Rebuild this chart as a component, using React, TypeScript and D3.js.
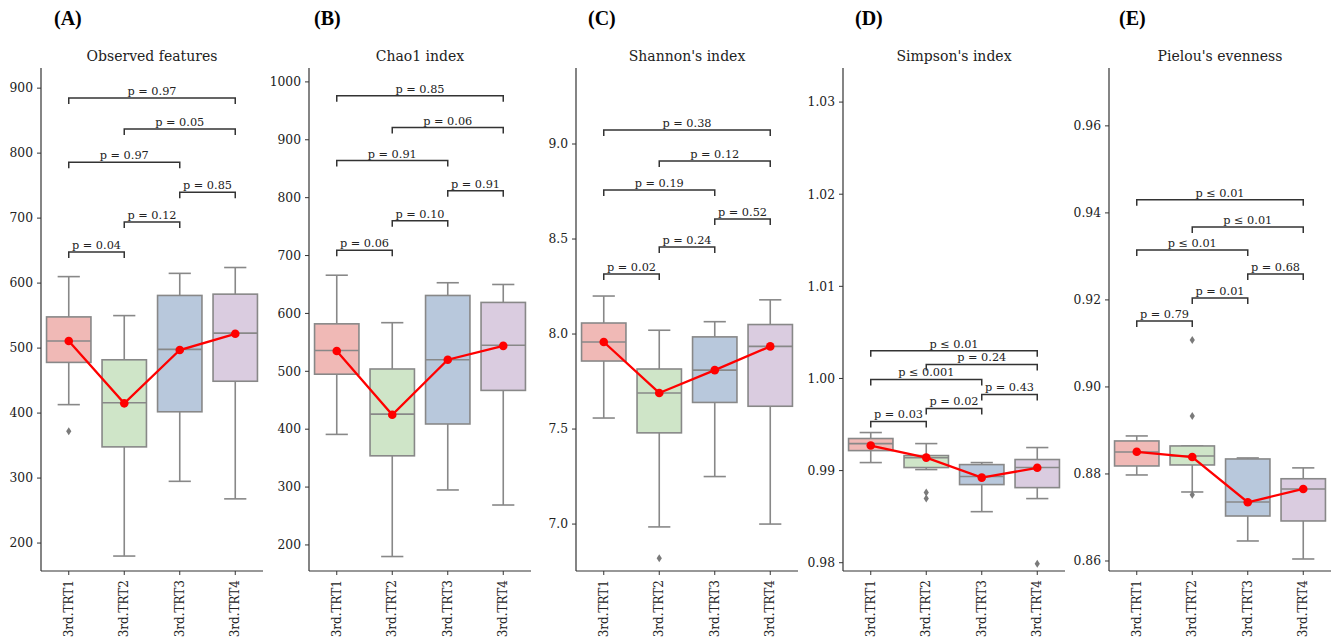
import React from "react";
import * as d3 from "d3";

// groups shared by all five panels
const categories = ["3rd.TRT1", "3rd.TRT2", "3rd.TRT3", "3rd.TRT4"];
const boxColors = ["#f0b9b6", "#cfe5c8", "#b8c8dc", "#dacce0"];
// comparison pairs, in the order the brackets stack upward
const pairs = [
  [0, 1],
  [1, 2],
  [2, 3],
  [0, 2],
  [1, 3],
  [0, 3],
];

// (A) Observed features: [low whisker, q1, median, q3, high whisker]
const observedBoxes = [
  [413, 478, 511, 548, 610],
  [180, 348, 416, 482, 550],
  [295, 402, 498, 581, 615],
  [268, 449, 523, 583, 624],
];
const observedMeans = [511, 415, 497, 522];
const observedOutliers = [[372], [], [], []];
const observedTicks = [200, 300, 400, 500, 600, 700, 800, 900];
const observedDomain = [157, 931];
const observedBracketY = [648, 694, 740, 786, 837, 885];
const observedPvals = ["p = 0.04", "p = 0.12", "p = 0.85", "p = 0.97", "p = 0.05", "p = 0.97"];

// (B) Chao1 index
const chao1Boxes = [
  [391, 495, 536, 582, 666],
  [180, 354, 426, 504, 584],
  [295, 409, 520, 631, 653],
  [269, 467, 545, 619, 650],
];
const chao1Means = [535, 425, 520, 544];
const chao1Outliers = [[], [], [], []];
const chao1Ticks = [200, 300, 400, 500, 600, 700, 800, 900, 1000];
const chao1Domain = [155, 1024];
const chao1BracketY = [709, 760, 812, 864, 921, 976];
const chao1Pvals = ["p = 0.06", "p = 0.10", "p = 0.91", "p = 0.91", "p = 0.06", "p = 0.85"];

// (C) Shannon's index
const shannonBoxes = [
  [7.558, 7.858, 7.958, 8.058, 8.2],
  [6.985, 7.48, 7.69, 7.816, 8.02],
  [7.25, 7.64, 7.81, 7.985, 8.065],
  [7.0, 7.62, 7.935, 8.05, 8.18],
];
const shannonMeans = [7.958, 7.69, 7.81, 7.935];
const shannonOutliers = [[], [6.82], [], []];
const shannonTicks = [7.0, 7.5, 8.0, 8.5, 9.0];
const shannonDomain = [6.753, 9.4];
const shannonBracketY = [8.316, 8.458, 8.605, 8.758, 8.91, 9.074];
const shannonPvals = ["p = 0.02", "p = 0.24", "p = 0.52", "p = 0.19", "p = 0.12", "p = 0.38"];

// (D) Simpson's index
const simpsonBoxes = [
  [0.99087, 0.99217, 0.99293, 0.99348, 0.99413],
  [0.99011, 0.99033, 0.9914, 0.99163, 0.99293],
  [0.98554, 0.98848, 0.98935, 0.99065, 0.99087],
  [0.98696, 0.98815, 0.99033, 0.9912, 0.9925],
];
const simpsonMeans = [0.99272, 0.99141, 0.98924, 0.9903];
const simpsonOutliers = [[], [0.98761, 0.98696], [], [0.97989]];
const simpsonTicks = [0.98, 0.99, 1.0, 1.01, 1.02, 1.03];
const simpsonDomain = [0.9791, 1.0337];
const simpsonBracketY = [0.99533, 0.99674, 0.99826, 0.99989, 1.00152, 1.003];
const simpsonPvals = ["p = 0.03", "p = 0.02", "p = 0.43", "p ≤ 0.001", "p = 0.24", "p ≤ 0.01"];

// (E) Pielou's evenness
const pielouBoxes = [
  [0.87977, 0.88184, 0.88506, 0.88759, 0.88874],
  [0.87586, 0.88207, 0.88414, 0.88644, 0.88644],
  [0.8646, 0.87034, 0.87356, 0.88345, 0.88368],
  [0.86046, 0.8692, 0.87655, 0.8789, 0.8814],
];
const pielouMeans = [0.8851, 0.8839, 0.8735, 0.87655];
const pielouOutliers = [[], [0.9108, 0.8933, 0.8752], [], []];
const pielouTicks = [0.86, 0.88, 0.9, 0.92, 0.94, 0.96];
const pielouDomain = [0.8577, 0.9733];
const pielouBracketY = [0.91517, 0.92046, 0.92598, 0.9315, 0.93678, 0.943];
const pielouPvals = ["p = 0.79", "p = 0.01", "p = 0.68", "p ≤ 0.01", "p ≤ 0.01", "p ≤ 0.01"];

const panels = [
  { letter: "(A)", title: "Observed features", boxes: observedBoxes, means: observedMeans, outliers: observedOutliers, ticks: observedTicks, domain: observedDomain, bracketY: observedBracketY, pvals: observedPvals, fmt: "d" },
  { letter: "(B)", title: "Chao1 index", boxes: chao1Boxes, means: chao1Means, outliers: chao1Outliers, ticks: chao1Ticks, domain: chao1Domain, bracketY: chao1BracketY, pvals: chao1Pvals, fmt: "d" },
  { letter: "(C)", title: "Shannon's index", boxes: shannonBoxes, means: shannonMeans, outliers: shannonOutliers, ticks: shannonTicks, domain: shannonDomain, bracketY: shannonBracketY, pvals: shannonPvals, fmt: ".1f" },
  { letter: "(D)", title: "Simpson's index", boxes: simpsonBoxes, means: simpsonMeans, outliers: simpsonOutliers, ticks: simpsonTicks, domain: simpsonDomain, bracketY: simpsonBracketY, pvals: simpsonPvals, fmt: ".2f" },
  { letter: "(E)", title: "Pielou's evenness", boxes: pielouBoxes, means: pielouMeans, outliers: pielouOutliers, ticks: pielouTicks, domain: pielouDomain, bracketY: pielouBracketY, pvals: pielouPvals, fmt: ".2f" },
];

// layout
const width = 1335;
const height = 638;
const spineX = [41, 309, 576, 843, 1109];
const letterX = [54, 314, 588, 855, 1119];
const axW = 222;
const top = 68;
const bottom = 571;
const font = "'DejaVu Serif', serif";
const edge = "#888888";
const ink = "#333333";

function Panel({ p, i }) {
  const x0 = spineX[i];
  const x = d3.scaleBand().domain(categories).range([x0, x0 + axW]).padding(0);
  const y = d3.scaleLinear().domain(p.domain).range([bottom, top]);
  const bw = x.bandwidth() * 0.8;
  const cx = (k) => x(categories[k]) + x.bandwidth() / 2;
  const fmt = d3.format(p.fmt);
  const meanLine = d3
    .line()
    .x((d, k) => cx(k))
    .y((d) => y(d))(p.means);

  return (
    <g>
      <text x={letterX[i]} y={25} fontFamily="'Liberation Serif', serif" fontWeight="bold" fontSize={20} fill="#000">
        {p.letter}
      </text>
      <text x={x0 + axW / 2} y={61} textAnchor="middle" fontFamily={font} fontSize={14} fill="#222">
        {p.title}
      </text>

      {/* boxes */}
      {p.boxes.map((b, k) => {
        const c = cx(k);
        return (
          <g key={k} stroke={edge} strokeWidth={1.6} fill="none">
            <line x1={c} x2={c} y1={y(b[0])} y2={y(b[1])} />
            <line x1={c} x2={c} y1={y(b[3])} y2={y(b[4])} />
            <line x1={c - bw / 4} x2={c + bw / 4} y1={y(b[0])} y2={y(b[0])} />
            <line x1={c - bw / 4} x2={c + bw / 4} y1={y(b[4])} y2={y(b[4])} />
            <rect x={c - bw / 2} width={bw} y={y(b[3])} height={y(b[1]) - y(b[3])} fill={boxColors[k]} />
            <line x1={c - bw / 2} x2={c + bw / 2} y1={y(b[2])} y2={y(b[2])} />
            {p.outliers[k].map((o, j) => (
              <path
                key={j}
                d={`M${c},${y(o) - 4}L${c + 2.6},${y(o)}L${c},${y(o) + 4}L${c - 2.6},${y(o)}Z`}
                fill="#7a7a7a"
                stroke="none"
              />
            ))}
          </g>
        );
      })}

      {/* means */}
      <path d={meanLine} stroke="#ff0000" strokeWidth={2.3} fill="none" />
      {p.means.map((m, k) => (
        <circle key={k} cx={cx(k)} cy={y(m)} r={4.3} fill="#ff0000" />
      ))}

      {/* significance brackets */}
      {pairs.map(([a, b], k) => {
        const yy = y(p.bracketY[k]);
        const xa = cx(a);
        const xb = cx(b);
        return (
          <g key={k}>
            <path d={`M${xa},${yy + 6}V${yy}H${xb}V${yy + 6}`} stroke={ink} strokeWidth={1.5} fill="none" />
            <text x={(xa + xb) / 2} y={yy - 3} textAnchor="middle" fontFamily={font} fontSize={11.3} fill="#222">
              {p.pvals[k]}
            </text>
          </g>
        );
      })}

      {/* axes */}
      <line x1={x0} x2={x0} y1={top} y2={bottom} stroke={ink} strokeWidth={1.2} />
      <line x1={x0} x2={x0 + axW} y1={bottom} y2={bottom} stroke={ink} strokeWidth={1.2} />
      {p.ticks.map((t) => (
        <g key={t}>
          <line x1={x0 - 4} x2={x0} y1={y(t)} y2={y(t)} stroke={ink} strokeWidth={1} />
          <text x={x0 - 8} y={y(t)} dy="0.35em" textAnchor="end" fontFamily={font} fontSize={12.3} fill="#222">
            {fmt(t)}
          </text>
        </g>
      ))}
      {categories.map((c, k) => (
        <g key={c}>
          <line x1={cx(k)} x2={cx(k)} y1={bottom} y2={bottom + 4} stroke={ink} strokeWidth={1} />
          <text
            transform={`translate(${cx(k)},${bottom + 9}) rotate(-90)`}
            dy="0.35em"
            textAnchor="end"
            fontFamily={font}
            fontSize={12}
            fill="#222"
          >
            {c}
          </text>
        </g>
      ))}
    </g>
  );
}

export default function App() {
  return (
    <svg
      width={width}
      height={height}
      style={{ position: "absolute", left: 0, top: 0, background: "#fff" }}
    >
      {panels.map((p, i) => (
        <Panel key={i} p={p} i={i} />
      ))}
    </svg>
  );
}
